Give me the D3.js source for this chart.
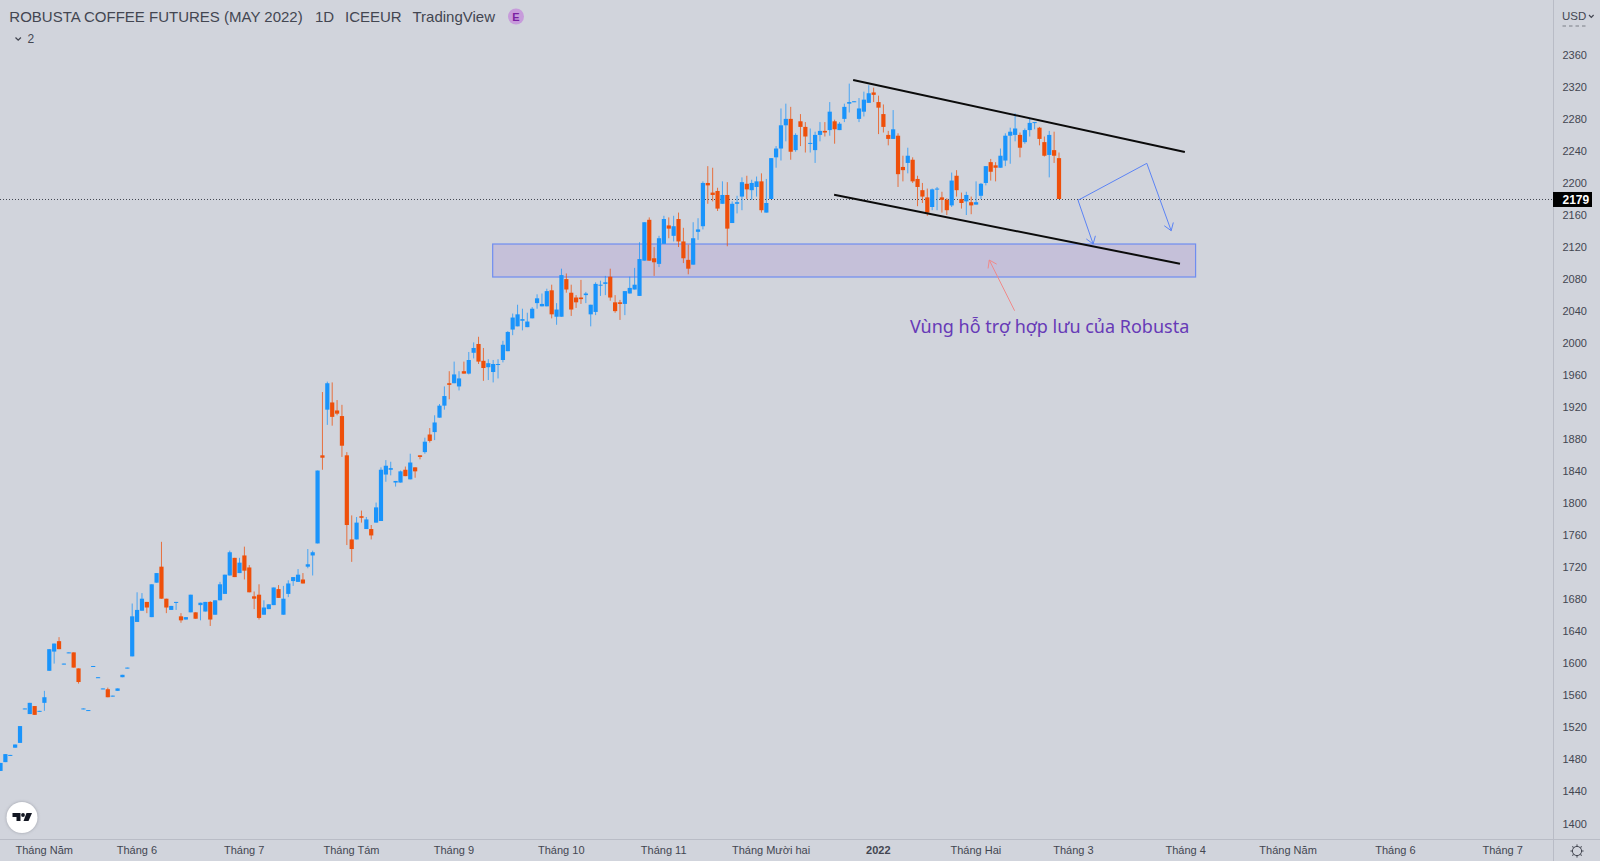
<!DOCTYPE html>
<html>

<head>
    <meta charset="utf-8">
    <script src="https://d3js.org/d3.v7.min.js"></script>
    <style>
        html, body {
            margin: 0;
            padding: 0;
            background: #d1d4dc;
            overflow: hidden;
        }
        svg {
            display: block;
            font-family: "Liberation Sans", Arial, sans-serif;
        }
    </style>
</head>

<body>
    <svg id="chart"></svg>

    <script>
        //////////////////////////////////////////DATA//////////////////////////////////////////
        //daily candles, index = bar number from the left edge
        const opens = [
            1465,1476,1484,1494,1500,1542,1536,1546,1539,1550,
            1590,1614,1627,1598,1612,1613,1593,1542,1540,1595,
            1581,1567,1567,1558,1565,1582,1593,1608,1651,1665,
            1676,1657,1700,1720,1680,1666,1675,1658,1654,1663,
            1663,1672,1664,1676,1660,1678,1686,1709,1731,1712,
            1734,1719,1683,1685,1660,1667,1672,1692,1660,1686,
            1702,1701,1704,1720,1734,1749,1859,1916,1925,1915,
            1908,1859,1754,1754,1783,1767,1767,1775,1777,1835,
            1841,1825,1825,1841,1829,1844,1859,1863,1885,1888,
            1906,1921,1949,1949,1945,1964,1961,1987,1998,1977,
            1969,1963,1972,1978,1989,2016,2020,2027,2019,2030,
            2049,2045,2045,2065,2032,2032,2079,2062,2056,2056,
            2059,2035,2038,2071,2073,2082,2050,2050,2048,2061,
            2066,2058,2102,2153,2105,2098,2123,2146,2133,2154,
            2126,2103,2097,2138,2145,2199,2187,2189,2173,2184,
            2149,2173,2182,2198,2190,2194,2201,2162,2179,2231,
            2242,2271,2279,2240,2276,2269,2248,2240,2259,2264,
            2265,2276,2265,2279,2298,2300,2279,2288,2299,2312,
            2300,2285,2259,2254,2258,2219,2224,2228,2204,2190,
            2181,2169,2191,2181,2178,2171,2208,2179,2176,2175,
            2172,2183,2199,2225,2221,2218,2227,2258,2259,2259,
            2250,2265,2274,2268,2250,2234,2240,2230
        ];
        const highs = [
            1475,1486,1485,1498,1521,1543,1550,1546,1540,1565,
            1617,1624,1632,1599,1613,1613,1593,1543,1541,1596,
            1582,1568,1569,1559,1568,1585,1594,1674,1688,1687,
            1676,1698,1712,1751,1680,1671,1676,1662,1657,1685,
            1663,1675,1676,1677,1678,1701,1710,1740,1731,1731,
            1745,1722,1689,1698,1678,1673,1694,1697,1696,1703,
            1707,1717,1712,1742,1740,1840,1938,1951,1950,1928,
            1922,1863,1784,1782,1790,1782,1772,1800,1844,1853,
            1851,1827,1840,1845,1861,1844,1859,1881,1893,1909,
            1923,1945,1964,1976,1964,1976,1988,2000,2007,1993,
            1979,1978,1979,2002,2014,2036,2047,2042,2037,2044,
            2060,2061,2067,2072,2049,2092,2086,2072,2059,2078,
            2063,2047,2075,2077,2083,2092,2059,2053,2064,2082,
            2093,2125,2150,2156,2119,2133,2158,2156,2158,2162,
            2143,2122,2150,2155,2201,2220,2218,2193,2201,2200,
            2176,2183,2206,2208,2203,2207,2211,2204,2230,2245,
            2292,2298,2294,2261,2285,2275,2267,2263,2275,2275,
            2300,2278,2275,2298,2323,2301,2305,2313,2321,2318,
            2308,2297,2264,2290,2261,2233,2243,2231,2208,2199,
            2192,2192,2194,2188,2180,2212,2215,2187,2188,2182,
            2201,2199,2220,2229,2225,2242,2261,2268,2286,2262,
            2267,2280,2275,2269,2257,2264,2263,2237
        ];
        const lows = [
            1465,1476,1484,1494,1500,1542,1536,1535,1539,1540,
            1590,1599,1617,1598,1612,1594,1574,1542,1540,1595,
            1581,1567,1557,1558,1565,1582,1593,1608,1651,1665,
            1662,1657,1700,1680,1662,1666,1666,1650,1654,1663,
            1655,1653,1664,1646,1660,1678,1686,1709,1707,1712,
            1704,1688,1667,1654,1660,1667,1672,1681,1660,1682,
            1696,1701,1699,1718,1709,1749,1841,1897,1896,1909,
            1857,1747,1726,1754,1775,1767,1754,1775,1777,1826,
            1834,1820,1825,1833,1829,1831,1854,1861,1875,1878,
            1906,1916,1929,1949,1940,1961,1960,1980,1973,1952,
            1953,1950,1955,1975,1989,2009,2020,2015,2019,2030,
            2042,2045,2045,2030,2022,2032,2062,2033,2043,2048,
            2049,2020,2034,2058,2059,2052,2037,2028,2034,2061,
            2066,2058,2102,2102,2083,2094,2123,2130,2126,2119,
            2099,2085,2097,2128,2141,2173,2176,2164,2173,2120,
            2149,2161,2165,2179,2178,2182,2162,2162,2179,2218,
            2227,2251,2228,2238,2245,2237,2237,2224,2251,2257,
            2258,2248,2265,2275,2287,2300,2275,2282,2299,2300,
            2260,2262,2246,2254,2194,2201,2211,2199,2170,2174,
            2158,2165,2165,2162,2159,2169,2182,2167,2159,2160,
            2172,2179,2196,2202,2201,2218,2220,2223,2251,2231,
            2248,2257,2266,2246,2232,2206,2224,2179
        ];
        const closes = [
            1475,1486,1485,1498,1521,1543,1550,1535,1540,1557,
            1617,1624,1617,1599,1613,1594,1576,1543,1541,1596,
            1582,1568,1557,1559,1568,1585,1594,1658,1666,1680,
            1669,1698,1712,1680,1669,1671,1676,1653,1657,1685,
            1655,1675,1676,1654,1678,1698,1710,1738,1707,1725,
            1715,1688,1680,1656,1669,1673,1694,1681,1680,1699,
            1707,1710,1699,1723,1738,1840,1856,1949,1907,1911,
            1871,1772,1742,1775,1781,1779,1759,1794,1841,1846,
            1843,1827,1839,1833,1850,1839,1857,1876,1877,1900,
            1921,1933,1947,1960,1955,1961,1978,1993,1976,1968,
            1974,1973,1973,1997,2013,2031,2035,2029,2026,2042,
            2055,2048,2064,2035,2041,2084,2066,2041,2050,2054,
            2061,2047,2073,2072,2075,2056,2039,2048,2064,2068,
            2072,2104,2150,2102,2100,2130,2154,2142,2145,2126,
            2105,2092,2130,2141,2199,2196,2184,2167,2184,2142,
            2173,2175,2200,2191,2199,2201,2165,2174,2230,2242,
            2271,2279,2238,2259,2269,2257,2249,2259,2264,2262,
            2288,2266,2273,2294,2300,2301,2292,2303,2311,2309,
            2293,2269,2254,2266,2210,2215,2233,2201,2194,2182,
            2162,2191,2192,2178,2165,2202,2190,2174,2184,2171,
            2175,2198,2220,2213,2218,2233,2258,2263,2267,2243,
            2265,2274,2275,2254,2233,2259,2233,2179
        ];

        //axis labels
        const priceTicks = [1400,1440,1480,1520,1560,1600,1640,1680,1720,1760,1800,1840,1880,1920,1960,2000,2040,2080,2120,2160,2200,2240,2280,2320,2360];
        const monthBars = [9,28,50,72,93,115,136,158,180,200,220,243,264,286,308];
        const monthLabels = ["Tháng Năm","Tháng 6","Tháng 7","Tháng Tám","Tháng 9","Tháng 10","Tháng 11","Tháng Mười hai","2022","Tháng Hai","Tháng 3","Tháng 4","Tháng Năm","Tháng 6","Tháng 7"];
        const lastPrice = 2179;

        //hand drawn things on the chart, as [bar, price]
        const upperChannel = [[174.8,2327.5],[242.8,2237.7]];
        const lowerChannel = [[170.9,2184.3],[241.8,2098.2]];
        const zoneBars = [100.9,245];
        const zonePrices = [2122.8,2081.6];
        const pathToPeak = [[224,2122.8],[220.9,2177.4],[235,2223.5],[240,2139.4]];
        const redArrow = [[207.9,2039.5],[202.7,2102.8]];
        const zoneText = "Vùng hỗ trợ hợp lưu của Robusta";

        //////////////////////////////////////////GRAPH VARIABLES//////////////////////////////////////////
        const width = 1600;
        const height = 861;
        const axisX = 1553;
        const axisY = 839;

        const upColor = "#1a94fb";
        const downColor = "#ee4f0a";
        const textColor = "#434651";
        const drawBlue = "#5b83f5";

        const x = d3.scaleLinear().domain([0, 217]).range([0.5, 1059]);
        const y = d3.scaleLinear().domain([1400, 2360]).range([823, 54]);
        const line = d3.line().x(d => x(d[0])).y(d => y(d[1]));

        const svg = d3.select("#chart").attr("width", width).attr("height", height);
        svg.append("rect").attr("width", width).attr("height", height).attr("fill", "#d1d4dc");

        svg.append("clipPath").attr("id", "pane")
            .append("rect").attr("width", axisX).attr("height", axisY);
        const pane = svg.append("g").attr("clip-path", "url(#pane)");

        //////////////////////////////////////////LAST PRICE LINE//////////////////////////////////////////
        pane.append("line")
            .attr("x1", 0).attr("x2", axisX)
            .attr("y1", y(lastPrice) + 0.5).attr("y2", y(lastPrice) + 0.5)
            .attr("stroke", "#131722")
            .attr("stroke-opacity", 0.75)
            .attr("stroke-width", 1)
            .attr("stroke-dasharray", "1 2");

        //////////////////////////////////////////ZONE//////////////////////////////////////////
        pane.append("rect")
            .attr("x", x(zoneBars[0]))
            .attr("y", y(zonePrices[0]))
            .attr("width", x(zoneBars[1]) - x(zoneBars[0]))
            .attr("height", y(zonePrices[1]) - y(zonePrices[0]))
            .attr("fill", "#9575cd")
            .attr("fill-opacity", 0.2)
            .attr("stroke", "#6f8df0")
            .attr("stroke-width", 1.2);

        //////////////////////////////////////////CANDLES//////////////////////////////////////////
        const candles = pane.append("g").selectAll("g").data(opens).join("g")
            .attr("stroke", (d, i) => closes[i] >= d ? upColor : downColor)
            .attr("fill", (d, i) => closes[i] >= d ? upColor : downColor);

        candles.append("line")
            .attr("x1", (d, i) => x(i)).attr("x2", (d, i) => x(i))
            .attr("y1", (d, i) => y(highs[i]))
            .attr("y2", (d, i) => y(lows[i]))
            .attr("stroke-width", 1)
            .attr("stroke-opacity", 0.75);

        candles.append("rect")
            .attr("x", (d, i) => x(i) - 2.1)
            .attr("width", 4.2)
            .attr("y", (d, i) => y(Math.max(d, closes[i])))
            .attr("height", (d, i) => Math.max(1, Math.abs(y(d) - y(closes[i]))))
            .attr("stroke", "none");

        //////////////////////////////////////////DRAWINGS//////////////////////////////////////////
        [upperChannel, lowerChannel].forEach(d => {
            pane.append("path")
                .attr("d", line(d))
                .attr("fill", "none")
                .attr("stroke", "#0b0b0b")
                .attr("stroke-width", 2);
        });

        pane.append("path")
            .attr("d", line(pathToPeak))
            .attr("fill", "none")
            .attr("stroke", drawBlue)
            .attr("stroke-width", 1);

        //little open arrow heads at the end of a segment
        const arrowHead = (from, to, color) => {
            const tip = [x(to[0]), y(to[1])];
            const angle = Math.atan2(tip[1] - y(from[1]), tip[0] - x(from[0]));
            const size = 8.5;
            const wing = a => [tip[0] - size * Math.cos(angle + a), tip[1] - size * Math.sin(angle + a)];
            pane.append("path")
                .attr("d", d3.line()([wing(0.6), tip, wing(-0.6)]))
                .attr("fill", "none")
                .attr("stroke", color)
                .attr("stroke-width", 1);
        };
        arrowHead(pathToPeak[1], pathToPeak[0], drawBlue);
        arrowHead(pathToPeak[2], pathToPeak[3], drawBlue);

        pane.append("path")
            .attr("d", line(redArrow))
            .attr("fill", "none")
            .attr("stroke", "#f08a8a")
            .attr("stroke-width", 1);
        arrowHead(redArrow[0], redArrow[1], "#f08a8a");

        pane.append("text")
            .text(zoneText)
            .attr("x", 910)
            .attr("y", 332.5)
            .attr("fill", "#673ab7")
            .style("font-family", "'Noto Sans'")
            .style("font-size", "18px");

        //////////////////////////////////////////AXES//////////////////////////////////////////
        const priceAxis = svg.append("g")
            .attr("transform", "translate(" + axisX + ",0.5)")
            .call(d3.axisRight(y).tickValues(priceTicks).tickFormat(d3.format("d")).tickSize(0).tickPadding(9.5));
        priceAxis.select(".domain").remove();
        priceAxis.selectAll("text")
            .attr("fill", textColor)
            .style("font-family", "'Liberation Sans'")
            .style("font-size", "11px");

        const timeAxis = svg.append("g")
            .attr("transform", "translate(-0.7," + axisY + ")")
            .call(d3.axisBottom(x).tickValues(monthBars).tickFormat((d, i) => monthLabels[i]).tickSize(0).tickPadding(7.5));
        timeAxis.select(".domain").remove();
        timeAxis.selectAll("text")
            .attr("fill", textColor)
            .style("font-family", "'Liberation Sans'")
            .style("font-size", "11px")
            .style("font-weight", (d, i) => monthLabels[i] === "2022" ? "bold" : "normal");

        svg.append("line").attr("x1", axisX + 0.5).attr("x2", axisX + 0.5).attr("y1", 0).attr("y2", height).attr("stroke", "#b9bcc6");
        svg.append("line").attr("x1", 0).attr("x2", width).attr("y1", axisY + 0.5).attr("y2", axisY + 0.5).attr("stroke", "#b9bcc6");

        //bottom sliver of the tick that sits under the currency box
        svg.append("line")
            .attr("x1", 1562.5).attr("x2", 1586)
            .attr("y1", 26).attr("y2", 26)
            .attr("stroke", textColor)
            .attr("stroke-opacity", 0.6)
            .attr("stroke-dasharray", "3.5 3");

        svg.append("text").text("USD")
            .attr("x", 1562).attr("y", 20)
            .attr("fill", textColor)
            .style("font-size", "11.5px");
        svg.append("path").attr("d", "M1589 15l2.3 2.3l2.3 -2.3").attr("fill", "none").attr("stroke", textColor).attr("stroke-width", 1.2);

        //last price tag
        svg.append("rect")
            .attr("x", axisX).attr("y", y(lastPrice) - 7)
            .attr("width", 39).attr("height", 15)
            .attr("fill", "#000");
        svg.append("text").text(lastPrice)
            .attr("x", 1562.5).attr("y", y(lastPrice) + 5)
            .attr("fill", "#fff")
            .style("font-size", "12px")
            .style("font-weight", "bold");

        //////////////////////////////////////////HEADER//////////////////////////////////////////
        const header = svg.append("g").attr("fill", textColor).style("font-size", "15px");
        header.append("text").text("ROBUSTA COFFEE FUTURES (MAY 2022)").attr("x", 9.3).attr("y", 21.5);
        header.append("text").text("1D").attr("x", 315).attr("y", 21.5);
        header.append("text").text("ICEEUR").attr("x", 345).attr("y", 21.5);
        header.append("text").text("TradingView").attr("x", 412.5).attr("y", 21.5);

        svg.append("circle").attr("cx", 516).attr("cy", 16.5).attr("r", 8).attr("fill", "#c79bdb");
        svg.append("text").text("E")
            .attr("x", 516).attr("y", 20.5)
            .attr("text-anchor", "middle")
            .attr("fill", "#7b1fa2")
            .style("font-size", "11px")
            .style("font-weight", "bold");

        svg.append("path").attr("d", "M15.5 37.5l2.7 2.7l2.7 -2.7").attr("fill", "none").attr("stroke", textColor).attr("stroke-width", 1.3);
        svg.append("text").text("2").attr("x", 27.5).attr("y", 43).attr("fill", textColor).style("font-size", "12px");

        //////////////////////////////////////////LOGO AND SETTINGS//////////////////////////////////////////
        svg.append("circle").attr("cx", 22).attr("cy", 817.5).attr("r", 15.5)
            .attr("fill", "#fff")
            .style("filter", "drop-shadow(0 0 1.5px rgba(120,123,134,0.6))");
        const logo = svg.append("g").attr("fill", "#131722").attr("transform", "translate(12.5,813)");
        logo.append("path").attr("d", "M0 0h8v8h-4v-4h-4z");
        logo.append("circle").attr("cx", 10.5).attr("cy", 2).attr("r", 1.9);
        logo.append("path").attr("d", "M14 0h5.5l-3.5 8h-5z");

        const gear = svg.append("g")
            .attr("transform", "translate(1577,851)")
            .attr("stroke", textColor)
            .attr("fill", "none");
        gear.append("circle").attr("r", 4.6);
        gear.selectAll("line").data([0, 1, 2, 3, 4, 5, 6, 7]).join("line")
            .attr("y1", -4.8).attr("y2", -6.6)
            .attr("transform", d => "rotate(" + d * 45 + ")");
    </script>
</body>

</html>
